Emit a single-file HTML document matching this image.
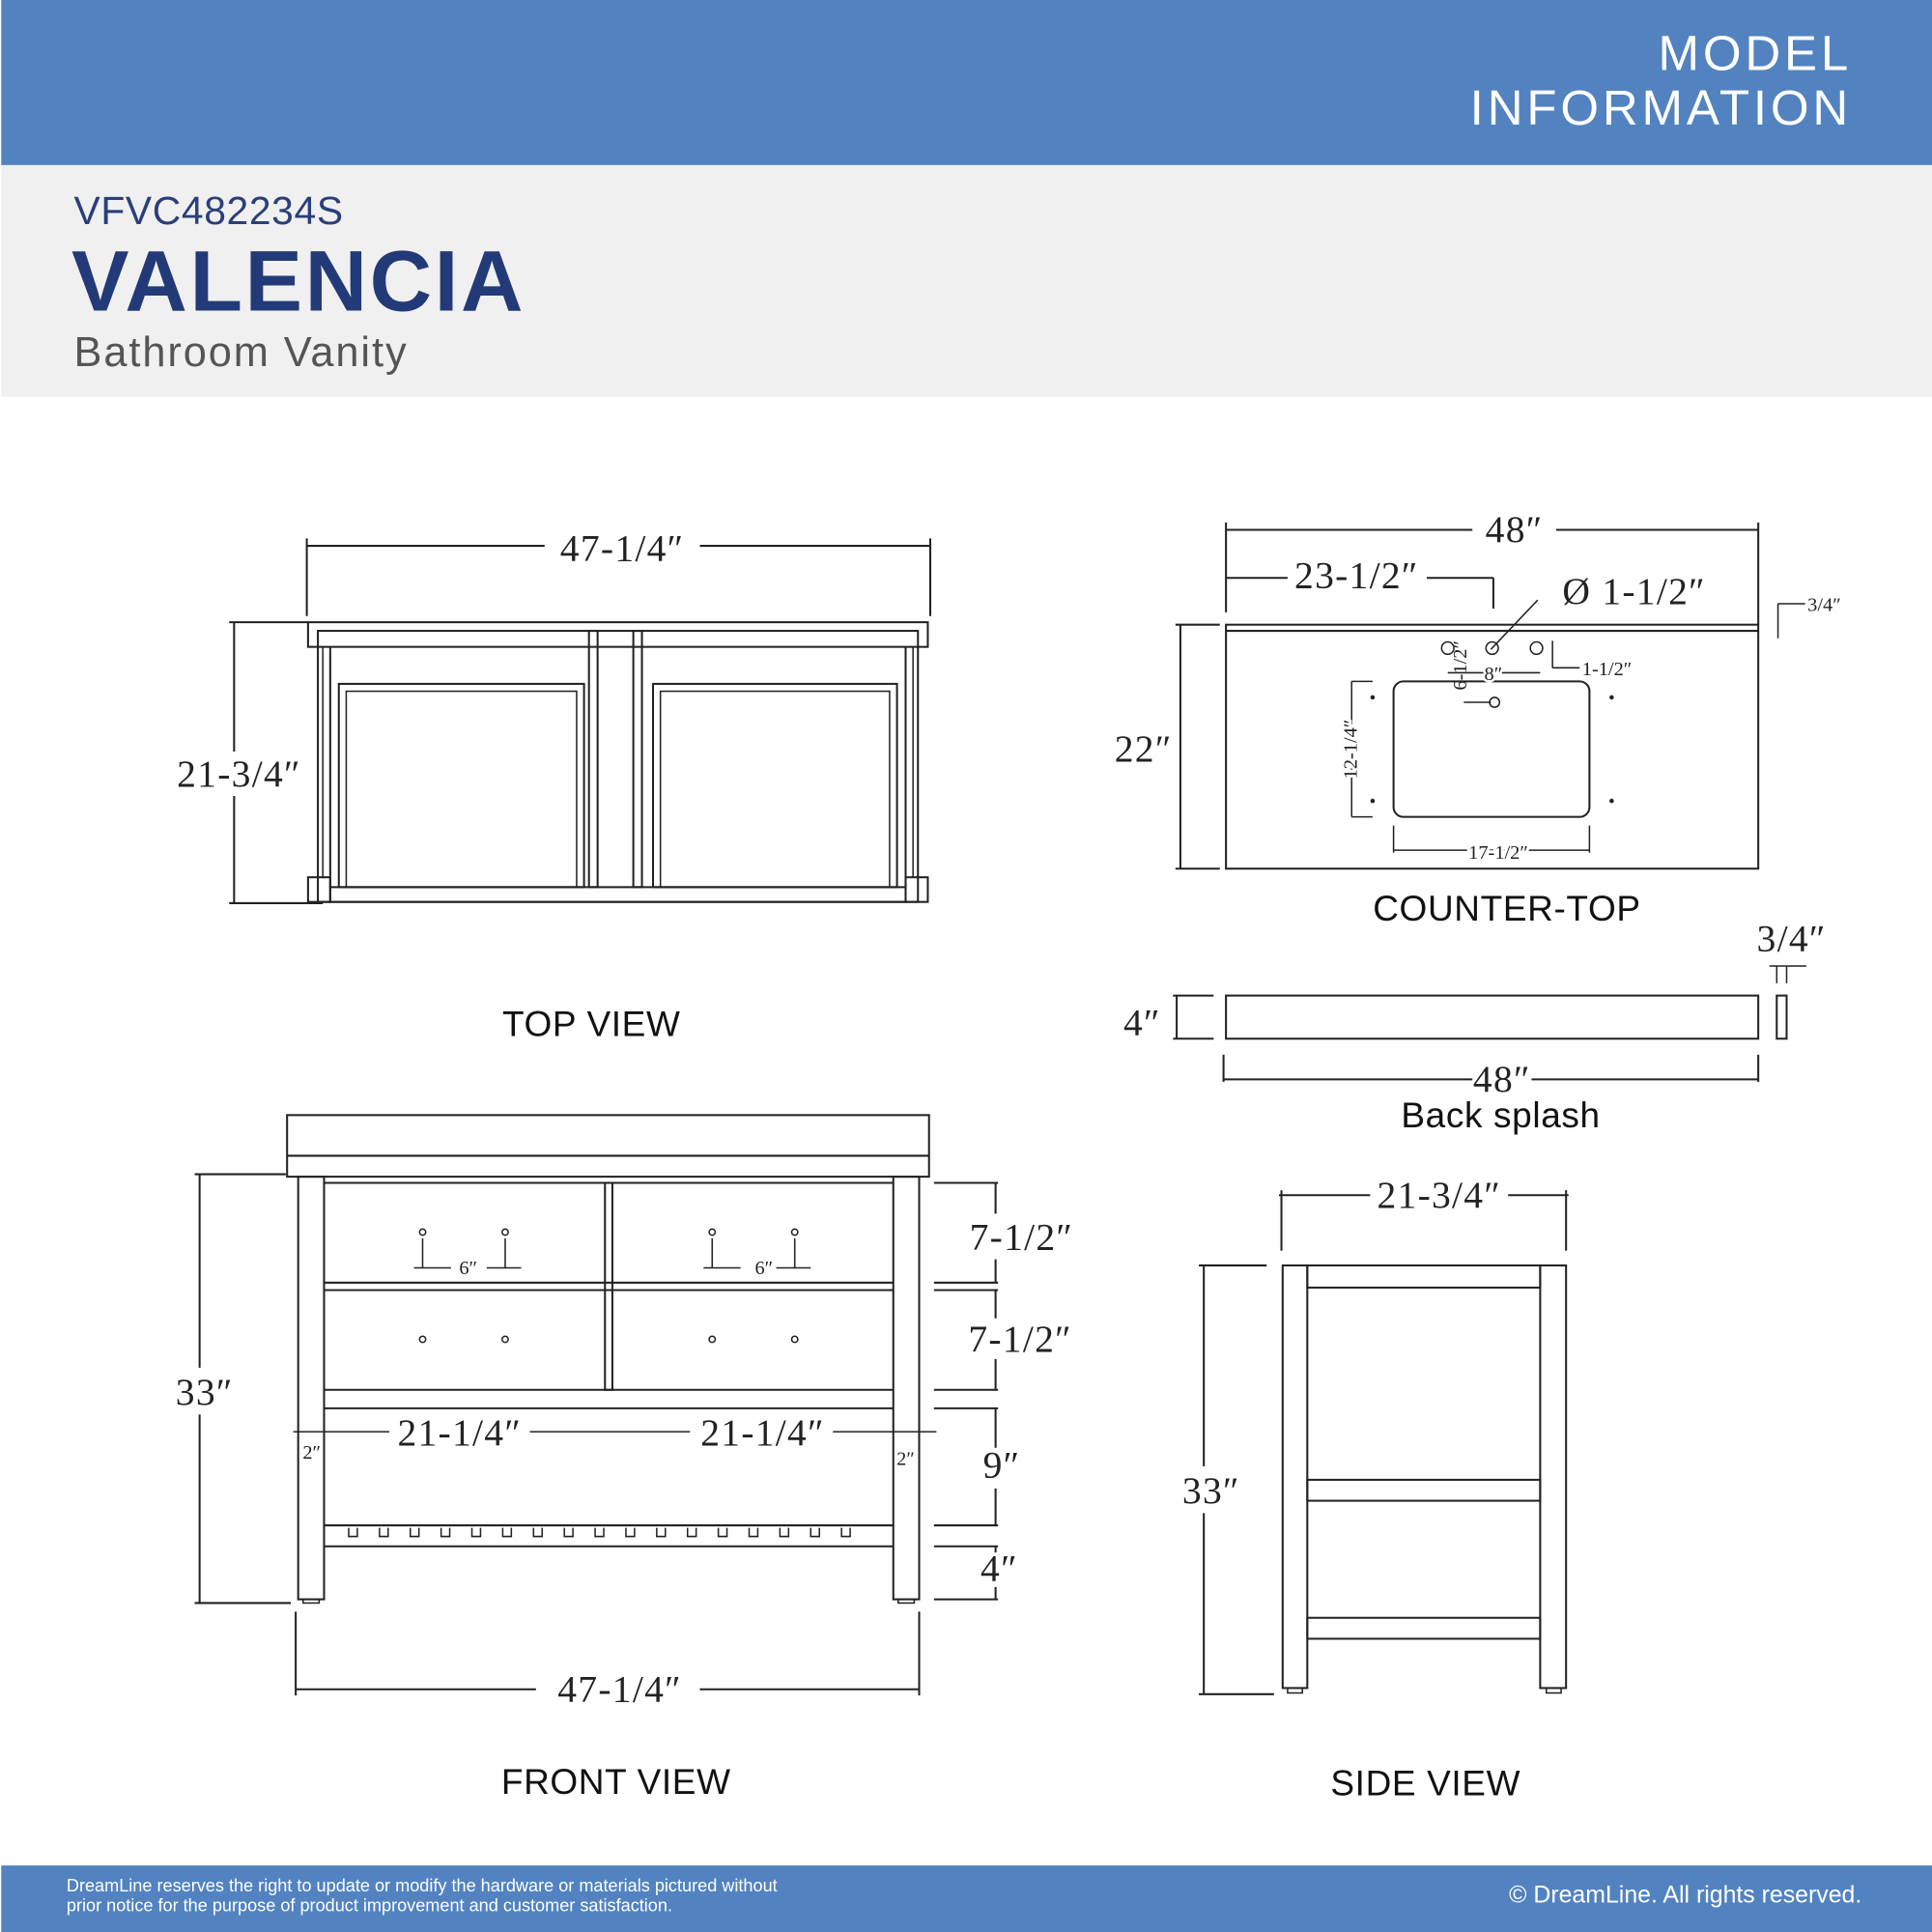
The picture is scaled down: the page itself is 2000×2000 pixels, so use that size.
<!DOCTYPE html>
<html><head><meta charset="utf-8"><style>
html,body{margin:0;padding:0;background:#fff;width:2000px;height:2000px;overflow:hidden}
svg{display:block}
.s{font-family:"Liberation Sans",sans-serif}
.d{font-family:"Liberation Serif",serif;font-size:31px;fill:#222;letter-spacing:1px}
.sm{font-family:"Liberation Serif",serif;font-size:16px;fill:#222}
.l{stroke:#222;stroke-width:1.6;fill:none}
.t{stroke:#222;stroke-width:1.2;fill:none}
.lab{font-family:"Liberation Sans",sans-serif;font-size:29px;fill:#111;letter-spacing:0.5px}
</style></head><body>
<svg width="2000" height="2000" viewBox="0 0 1568 1568" xmlns="http://www.w3.org/2000/svg">
<rect x="0" y="0" width="1568" height="1568" fill="#fff"/>
<rect x="1" y="0" width="1567" height="134" fill="#5283c0"/>
<text class="s" x="1503" y="57" font-size="40" fill="#fff" text-anchor="end" letter-spacing="3">MODEL</text>
<text class="s" x="1503" y="101" font-size="40" fill="#fff" text-anchor="end" letter-spacing="3">INFORMATION</text>
<rect x="1" y="134" width="1567" height="188" fill="#f0f0f0"/>
<text class="s" x="60" y="182" font-size="32" fill="#2a3f7a" letter-spacing="0.5">VFVC482234S</text>
<text class="s" x="58" y="252" font-size="70" font-weight="bold" fill="#233a78" letter-spacing="2">VALENCIA</text>
<text class="s" x="60" y="297" font-size="34" fill="#555" letter-spacing="1.5">Bathroom Vanity</text>
<rect x="1" y="1514" width="1567" height="54" fill="#5283c0"/>
<text class="s" x="54" y="1535" font-size="14.2" fill="#fff">DreamLine reserves the right to update or modify the hardware or materials pictured without</text>
<text class="s" x="54" y="1551" font-size="14.2" fill="#fff">prior notice for the purpose of product improvement and customer satisfaction.</text>
<text class="s" x="1511" y="1544" font-size="19.5" fill="#fff" text-anchor="end">© DreamLine. All rights reserved.</text>

<!-- TOP VIEW -->
<g>
<line class="l" x1="249" y1="443" x2="442" y2="443"/><line class="l" x1="568" y1="443" x2="755" y2="443"/>
<line class="l" x1="249" y1="437" x2="249" y2="500"/><line class="l" x1="755" y1="437" x2="755" y2="500"/>
<text class="d" x="505" y="455" text-anchor="middle">47-1/4″</text>
<line class="l" x1="190" y1="505" x2="190" y2="610"/><line class="l" x1="190" y1="646" x2="190" y2="733"/>
<line class="l" x1="186" y1="505" x2="250" y2="505"/><line class="l" x1="186" y1="733" x2="262" y2="733"/>
<text class="d" x="194" y="638" text-anchor="middle">21-3/4″</text>
<rect class="l" x="250" y="505" width="503" height="20"/>
<rect class="l" x="258" y="512" width="487" height="220"/>
<rect class="l" x="250" y="712" width="18" height="20"/><rect class="l" x="735" y="712" width="18" height="20"/>
<rect class="l" x="268" y="720" width="467" height="12"/>
<line class="l" x1="268" y1="525" x2="268" y2="720"/><line class="l" x1="735" y1="525" x2="735" y2="720"/>
<line class="t" x1="262" y1="525" x2="262" y2="712"/><line class="t" x1="741" y1="525" x2="741" y2="712"/>
<rect class="l" x="275" y="555" width="199" height="165"/><rect class="t" x="281" y="561" width="187" height="159"/>
<rect class="l" x="530" y="555" width="198" height="165"/><rect class="t" x="536" y="561" width="186" height="159"/>
<rect class="l" x="478" y="512" width="7" height="208"/><rect class="l" x="514" y="512" width="7" height="208"/>
<text class="lab" x="480" y="841" text-anchor="middle">TOP VIEW</text>
</g>

<!-- COUNTER-TOP -->
<g>
<line class="l" x1="995" y1="430" x2="1195" y2="430"/><line class="l" x1="1263" y1="430" x2="1427" y2="430"/>
<line class="l" x1="995" y1="424" x2="995" y2="497"/><line class="l" x1="1427" y1="424" x2="1427" y2="507"/>
<text class="d" x="1229" y="440" text-anchor="middle">48″</text>
<line class="l" x1="995" y1="469" x2="1045" y2="469"/><line class="l" x1="1158" y1="469" x2="1212" y2="469"/>
<line class="l" x1="1212" y1="469" x2="1212" y2="494"/>
<text class="d" x="1101" y="477" text-anchor="middle">23-1/2″</text>
<text class="d" x="1268" y="490">Ø 1-1/2″</text>
<line class="t" x1="1248" y1="487" x2="1210" y2="527"/>
<line class="t" x1="1443" y1="490" x2="1465" y2="490"/><line class="t" x1="1443" y1="490" x2="1443" y2="518"/>
<text class="sm" x="1467" y="496">3/4″</text>
<rect class="l" x="995" y="507" width="432" height="198"/>
<line class="l" x1="995" y1="512" x2="1427" y2="512"/>
<line class="l" x1="958" y1="507" x2="958" y2="705"/>
<line class="l" x1="954" y1="507" x2="990" y2="507"/><line class="l" x1="954" y1="705" x2="990" y2="705"/>
<text class="d" x="928" y="618" text-anchor="middle">22″</text>
<rect class="l" x="1131" y="553" width="159" height="110" rx="8"/>
<circle class="t" cx="1175" cy="526" r="5"/><circle class="t" cx="1211" cy="526" r="5"/><circle class="t" cx="1247" cy="526" r="5"/>
<circle class="t" cx="1213" cy="570" r="4"/>
<line class="t" x1="1175" y1="546" x2="1250" y2="546"/>
<text class="sm" x="1212" y="552" text-anchor="middle" fill="#222" style="paint-order:stroke" stroke="#fff" stroke-width="4">8″</text>
<line class="t" x1="1260" y1="520" x2="1260" y2="542"/><line class="t" x1="1260" y1="542" x2="1282" y2="542"/>
<text class="sm" x="1284" y="548" font-size="14">1-1/2″</text>
<text class="sm" x="1190" y="540" font-size="14" transform="rotate(-90 1190 540)" text-anchor="middle">6-1/2″</text>
<line class="t" x1="1188" y1="570" x2="1210" y2="570"/>
<circle cx="1114" cy="566" r="1.8" fill="#222"/><circle cx="1114" cy="650" r="1.8" fill="#222"/>
<circle cx="1308" cy="566" r="1.8" fill="#222"/><circle cx="1308" cy="650" r="1.8" fill="#222"/>
<line class="t" x1="1097" y1="553" x2="1097" y2="663"/>
<line class="t" x1="1097" y1="553" x2="1114" y2="553"/><line class="t" x1="1097" y1="663" x2="1114" y2="663"/>
<text class="sm" x="1101" y="608" font-size="20" transform="rotate(-90 1101 608)" text-anchor="middle" style="paint-order:stroke" stroke="#fff" stroke-width="5">12-1/4″</text>
<line class="t" x1="1131" y1="690" x2="1290" y2="690"/>
<line class="t" x1="1131" y1="670" x2="1131" y2="692"/><line class="t" x1="1290" y1="670" x2="1290" y2="692"/>
<text class="sm" x="1216" y="697" font-size="20" text-anchor="middle" style="paint-order:stroke" stroke="#fff" stroke-width="5">17-1/2″</text>
<text class="lab" x="1223" y="747" text-anchor="middle">COUNTER-TOP</text>
</g>

<!-- BACK SPLASH -->
<g>
<text class="d" x="1454" y="772" text-anchor="middle">3/4″</text>
<line class="t" x1="1436" y1="784" x2="1466" y2="784"/>
<line class="t" x1="1442" y1="784" x2="1442" y2="798"/><line class="t" x1="1450" y1="784" x2="1450" y2="798"/>
<rect class="l" x="995" y="808" width="432" height="35"/>
<rect class="l" x="1442" y="808" width="8" height="35"/>
<line class="l" x1="955" y1="808" x2="955" y2="843"/>
<line class="l" x1="952" y1="808" x2="985" y2="808"/><line class="l" x1="952" y1="843" x2="985" y2="843"/>
<text class="d" x="927" y="840" text-anchor="middle">4″</text>
<line class="l" x1="993" y1="876" x2="1195" y2="876"/><line class="l" x1="1243" y1="876" x2="1427" y2="876"/>
<line class="l" x1="993" y1="856" x2="993" y2="878"/><line class="l" x1="1427" y1="856" x2="1427" y2="878"/>
<text class="d" x="1219" y="886" text-anchor="middle">48″</text>
<text class="lab" x="1218" y="915" text-anchor="middle">Back splash</text>
</g>

<!-- FRONT VIEW -->
<g>
<rect class="l" x="233" y="905" width="521" height="50"/>
<line class="l" x1="233" y1="938" x2="754" y2="938"/>
<rect class="l" x="242" y="955" width="21" height="343"/>
<rect class="l" x="725" y="955" width="21" height="343"/>
<rect class="t" x="246" y="1298" width="13" height="3"/><rect class="t" x="729" y="1298" width="13" height="3"/>
<line class="l" x1="263" y1="960" x2="725" y2="960"/>
<line class="l" x1="263" y1="1041" x2="725" y2="1041"/><line class="l" x1="263" y1="1047" x2="725" y2="1047"/>
<line class="l" x1="263" y1="1128" x2="725" y2="1128"/><line class="l" x1="263" y1="1143" x2="725" y2="1143"/>
<line class="l" x1="263" y1="1238" x2="725" y2="1238"/><line class="l" x1="263" y1="1255" x2="725" y2="1255"/>
<rect class="l" x="491" y="960" width="6" height="168"/>
<path class="t" d="M283 1240v7h7v-7 M308 1240v7h7v-7 M333 1240v7h7v-7 M358 1240v7h7v-7 M383 1240v7h7v-7 M408 1240v7h7v-7 M433 1240v7h7v-7 M458 1240v7h7v-7 M483 1240v7h7v-7 M508 1240v7h7v-7 M533 1240v7h7v-7 M558 1240v7h7v-7 M583 1240v7h7v-7 M608 1240v7h7v-7 M633 1240v7h7v-7 M658 1240v7h7v-7 M683 1240v7h7v-7"/>
<circle class="t" cx="343" cy="1000" r="2.5"/><circle class="t" cx="410" cy="1000" r="2.5"/>
<circle class="t" cx="578" cy="1000" r="2.5"/><circle class="t" cx="645" cy="1000" r="2.5"/>
<circle class="t" cx="343" cy="1087" r="2.5"/><circle class="t" cx="410" cy="1087" r="2.5"/>
<circle class="t" cx="578" cy="1087" r="2.5"/><circle class="t" cx="645" cy="1087" r="2.5"/>
<path class="t" d="M343 1005v24 M410 1005v24 M336 1029h30 M395 1029h28 M578 1005v24 M645 1005v24 M571 1029h30 M630 1029h28"/>
<text class="sm" x="380" y="1034" font-size="18" text-anchor="middle">6″</text>
<text class="sm" x="620" y="1034" font-size="18" text-anchor="middle">6″</text>
<line class="t" x1="238" y1="1162" x2="316" y2="1162"/><line class="t" x1="430" y1="1162" x2="560" y2="1162"/><line class="t" x1="676" y1="1162" x2="760" y2="1162"/>
<text class="d" x="373" y="1173" text-anchor="middle">21-1/4″</text>
<text class="d" x="619" y="1173" text-anchor="middle">21-1/4″</text>
<text class="sm" x="253" y="1184" font-size="14" text-anchor="middle">2″</text>
<text class="sm" x="735" y="1189" font-size="14" text-anchor="middle">2″</text>
<path class="l" d="M758 960h52 M758 1041h52 M758 1047h52 M758 1128h52 M758 1143h52 M758 1238h52 M758 1255h52 M758 1298h52"/>
<path class="l" d="M808 960v25 M808 1022v19 M808 1047v23 M808 1103v25 M808 1143v32 M808 1208v30 M808 1255v5 M808 1288v10"/>
<text class="d" x="829" y="1014" text-anchor="middle">7-1/2″</text>
<text class="d" x="828" y="1097" text-anchor="middle">7-1/2″</text>
<text class="d" x="813" y="1199" text-anchor="middle">9″</text>
<text class="d" x="811" y="1283" text-anchor="middle">4″</text>
<line class="l" x1="162" y1="953" x2="162" y2="1110"/><line class="l" x1="162" y1="1148" x2="162" y2="1301"/>
<line class="l" x1="158" y1="953" x2="232" y2="953"/><line class="l" x1="158" y1="1301" x2="236" y2="1301"/>
<text class="d" x="166" y="1140" text-anchor="middle">33″</text>
<line class="l" x1="240" y1="1371" x2="435" y2="1371"/><line class="l" x1="568" y1="1371" x2="746" y2="1371"/>
<line class="l" x1="240" y1="1308" x2="240" y2="1376"/><line class="l" x1="746" y1="1308" x2="746" y2="1376"/>
<text class="d" x="503" y="1381" text-anchor="middle">47-1/4″</text>
<text class="lab" x="500" y="1456" text-anchor="middle">FRONT VIEW</text>
</g>

<!-- SIDE VIEW -->
<g>
<line class="l" x1="1038" y1="970" x2="1112" y2="970"/><line class="l" x1="1224" y1="970" x2="1273" y2="970"/>
<line class="l" x1="1040" y1="966" x2="1040" y2="1015"/><line class="l" x1="1271" y1="966" x2="1271" y2="1015"/>
<text class="d" x="1168" y="980" text-anchor="middle">21-3/4″</text>
<rect class="l" x="1041" y="1027" width="20" height="343"/>
<rect class="l" x="1250" y="1027" width="21" height="343"/>
<rect class="t" x="1045" y="1370" width="12" height="4"/><rect class="t" x="1255" y="1370" width="12" height="4"/>
<rect class="l" x="1061" y="1027" width="189" height="18"/>
<rect class="l" x="1061" y="1201" width="189" height="17"/>
<rect class="l" x="1061" y="1313" width="189" height="17"/>
<line class="l" x1="977" y1="1027" x2="977" y2="1190"/><line class="l" x1="977" y1="1228" x2="977" y2="1375"/>
<line class="l" x1="973" y1="1027" x2="1028" y2="1027"/><line class="l" x1="973" y1="1375" x2="1034" y2="1375"/>
<text class="d" x="983" y="1220" text-anchor="middle">33″</text>
<text class="lab" x="1157" y="1457" text-anchor="middle">SIDE VIEW</text>
</g>
</svg>
</body></html>
